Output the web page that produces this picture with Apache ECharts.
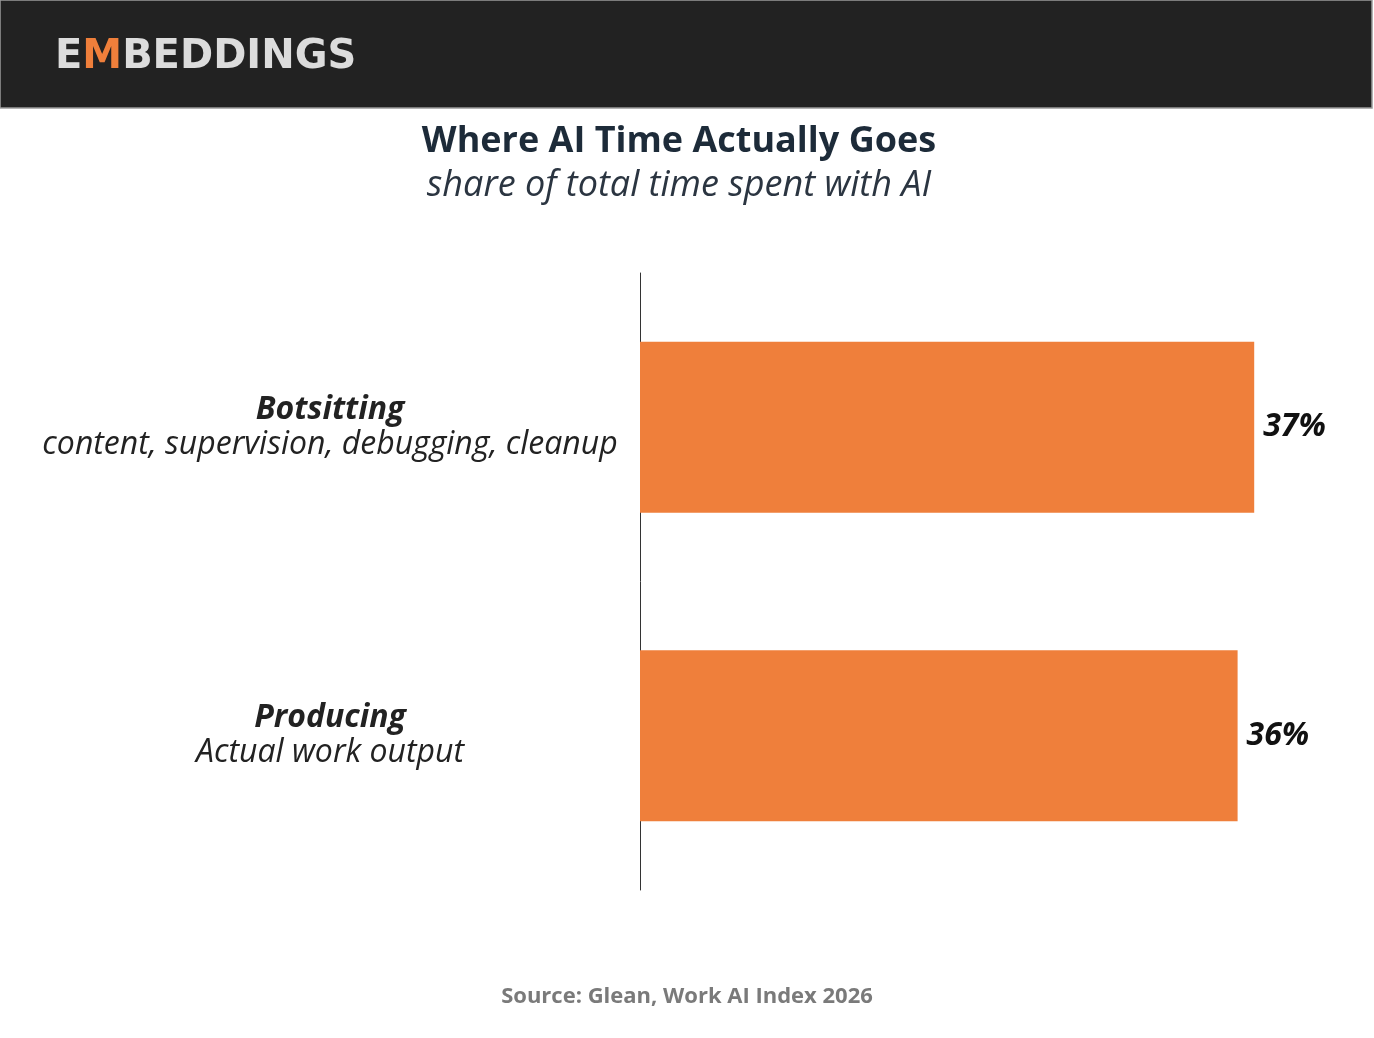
<!DOCTYPE html>
<html>
<head>
<meta charset="utf-8">
<script src="https://cdn.jsdelivr.net/npm/echarts@6/dist/echarts.min.js"></script>
<style>
html,body{margin:0;padding:0;background:#fff;}
#chart{width:1374px;height:1038px;}
</style>
</head>
<body>
<div id="chart"></div>
<script>
const categories = ['Botsitting', 'Producing'];
const subtitles = ['content, supervision, debugging, cleanup', 'Actual work output'];
const values = [37, 36];
const titleText = 'Where AI Time Actually Goes';
const subtitleText = 'share of total time spent with AI';
const sourceText = 'Source: Glean, Work AI Index 2026';

const chart = echarts.init(document.getElementById('chart'));
const FONT = '"Open Sans", "Noto Sans", sans-serif';

chart.setOption({
  backgroundColor: '#ffffff',
  animation: false,
  title: [
    {
      text: sourceText,
      left: 'center',
      top: 984,
      padding: 0,
      textStyle: { fontFamily: FONT, fontSize: 22, fontWeight: 'bold', color: '#7a7a7a', lineHeight: 26 }
    }
  ],
  graphic: [
    {
      type: 'rect',
      shape: { x: 0, y: 0, width: 1372, height: 108 },
      style: { fill: '#222222', stroke: '#9a9a9a', lineWidth: 1.5 },
      z: 0
    },
    {
      type: 'text',
      left: 55,
      top: 38,
      style: {
        text: '{g|E}{o|M}{g|BEDDINGS}',
        rich: {
          g: { fontFamily: '"DejaVu Sans", sans-serif', fontWeight: 'bold', fontSize: 40, fill: '#dcdcdc' },
          o: { fontFamily: '"DejaVu Sans", sans-serif', fontWeight: 'bold', fontSize: 40, fill: '#ef7f3b' }
        }
      },
      z: 5
    },
    {
      type: 'text',
      x: 679,
      y: 142,
      style: {
        text: titleText,
        align: 'center',
        verticalAlign: 'middle',
        font: 'bold 36px "Open Sans", "Noto Sans", sans-serif',
        fill: '#1d2b39'
      },
      z: 5
    },
    {
      type: 'text',
      x: 679,
      y: 186,
      style: {
        text: subtitleText,
        align: 'center',
        verticalAlign: 'middle',
        font: 'italic 36px "Open Sans", "Noto Sans", sans-serif',
        fill: '#2b3541'
      },
      z: 5
    }
  ],
  grid: { left: 640, right: 70, top: 273, bottom: 148, containLabel: false },
  xAxis: {
    type: 'value',
    min: 0,
    max: 40,
    show: false
  },
  yAxis: {
    type: 'category',
    data: categories,
    inverse: true,
    axisLine: { show: true, lineStyle: { color: '#333333', width: 1 } },
    axisTick: { show: false },
    axisLabel: {
      margin: 310,
      align: 'center',
      formatter: function (v, i) {
        return '{t|' + v + '}\n{s|' + subtitles[i] + '}';
      },
      rich: {
        t: { fontFamily: FONT, fontSize: 32, fontWeight: 'bold', fontStyle: 'italic', color: '#222222', lineHeight: 35, align: 'center' },
        s: { fontFamily: FONT, fontSize: 32, fontStyle: 'italic', color: '#222222', lineHeight: 35, align: 'center' }
      }
    }
  },
  series: [{
    type: 'bar',
    data: values,
    barWidth: 171,
    itemStyle: { color: '#ef7f3b' },
    label: {
      show: true,
      position: 'right',
      distance: 9,
      formatter: '{c}%',
      fontFamily: FONT,
      fontSize: 32,
      fontWeight: 'bold',
      fontStyle: 'italic',
      color: '#111111'
    }
  }]
});
</script>
</body>
</html>
